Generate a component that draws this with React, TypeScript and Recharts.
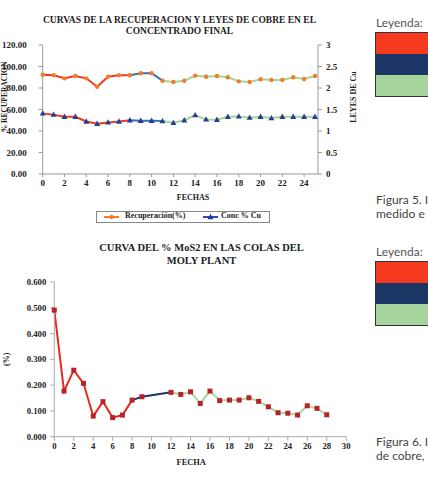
import { ComposedChart, Line, XAxis, YAxis, Legend, Label } from "recharts"

const SERIF = '"Liberation Serif", "Times New Roman", serif'
const SANS = 'Lato, "Open Sans", sans-serif'

// top chart: recovery (%) and copper grade in the final concentrate
const FECHAS = [0, 1, 2, 3, 4, 5, 6, 7, 8, 9, 10, 11, 12, 13, 14, 15, 16, 17, 18, 19, 20, 21, 22, 23, 24, 25]
const RECUPERACION = [92.4, 91.8, 89.0, 91.2, 89.0, 81.2, 90.5, 91.8, 91.8, 93.7, 93.7, 86.8, 85.6, 86.8, 91.5, 90.5, 91.2, 90.0, 86.2, 85.6, 88.1, 87.4, 87.4, 90.0, 88.4, 91.2]
const CONC_CU = [1.41, 1.38, 1.33, 1.33, 1.22, 1.17, 1.2, 1.22, 1.25, 1.24, 1.24, 1.23, 1.19, 1.25, 1.37, 1.27, 1.26, 1.33, 1.34, 1.31, 1.33, 1.3, 1.33, 1.33, 1.33, 1.33]
const TOP_X_TICKS = [0, 2, 4, 6, 8, 10, 12, 14, 16, 18, 20, 22, 24]
const REC_TICKS = [0, 20, 40, 60, 80, 100, 120]
const CU_TICKS = [0, 0.5, 1, 1.5, 2, 2.5, 3]
const TOP_PERIODS = [
  { key: "a", from: 0, to: 8, color: "#ec3b24" },
  { key: "b", from: 8, to: 11, color: "#3b6db3" },
  { key: "c", from: 11, to: 25, color: "#a6d596" },
]

// bottom chart: % MoS2 in the moly plant tails
const FECHA_MOS2 = [0, 1, 2, 3, 4, 5, 6, 7, 8, 9, 12, 13, 14, 15, 16, 17, 18, 19, 20, 21, 22, 23, 24, 25, 26, 27, 28]
const MOS2 = [0.491, 0.177, 0.258, 0.207, 0.08, 0.136, 0.074, 0.084, 0.142, 0.155, 0.172, 0.164, 0.174, 0.129, 0.177, 0.14, 0.142, 0.142, 0.151, 0.137, 0.116, 0.093, 0.091, 0.084, 0.12, 0.11, 0.085]
const BOT_X_TICKS = [0, 2, 4, 6, 8, 10, 12, 14, 16, 18, 20, 22, 24, 26, 28, 30]
const MOS2_TICKS = [0, 0.1, 0.2, 0.3, 0.4, 0.5, 0.6]
const BOT_PERIODS = [
  { key: "a", from: 0, to: 8, color: "#e52b1f" },
  { key: "b", from: 8, to: 12, color: "#1f3563" },
  { key: "c", from: 12, to: 28, color: "#a9d69c" },
]

const LEYENDA = ["#f53a1f", "#1b3564", "#a5d59c"]

const topData = FECHAS.map((x, i) => {
  const row: any = { x, rec: RECUPERACION[i], cu: CONC_CU[i] }
  TOP_PERIODS.forEach((p) => {
    row["rec_" + p.key] = x >= p.from && x <= p.to ? RECUPERACION[i] : null
    row["cu_" + p.key] = x >= p.from && x <= p.to ? CONC_CU[i] : null
  })
  return row
})

const botData = FECHA_MOS2.map((x, i) => {
  const row: any = { x, mos2: MOS2[i] }
  BOT_PERIODS.forEach((p) => {
    row["m_" + p.key] = x >= p.from && x <= p.to ? MOS2[i] : null
  })
  return row
})

const tickStyle = (size: number) => ({ fontFamily: SERIF, fontWeight: 700, fontSize: size, fill: "#222" })

const axisLabel = (text: string, dx: number, dy: number, angle: number, size: number) => (props: any) => {
  const vb = props.viewBox || { x: 0, y: 0, width: 0, height: 0 }
  const cx = vb.x + vb.width / 2 + dx
  const cy = vb.y + vb.height / 2 + dy
  return (
    <text
      x={cx}
      y={cy}
      transform={angle ? `rotate(${angle} ${cx} ${cy})` : undefined}
      textAnchor="middle"
      dominantBaseline="central"
      fontFamily={SERIF}
      fontWeight={700}
      fontSize={size}
      fill="#222"
    >
      {text}
    </text>
  )
}

const recDot = (p: any) => <circle key={p.index} cx={p.cx} cy={p.cy} r={2.2} fill="#f47b2a" />
const cuDot = (p: any) => (
  <path key={p.index} d={`M${p.cx},${p.cy - 3.2}L${p.cx + 3},${p.cy + 2.2}L${p.cx - 3},${p.cy + 2.2}Z`} fill="#203f95" />
)
const mosDot = (p: any) => <rect key={p.index} x={p.cx - 2.5} y={p.cy - 2.5} width={5} height={5} fill="#b8232a" />

function TopLegend() {
  const text = { position: "absolute" as const, top: -1, fontFamily: SERIF, fontWeight: 700, fontSize: 8, color: "#222", whiteSpace: "nowrap" as const }
  return (
    <div style={{ height: 28, position: "relative" }}>
      <div style={{ position: "absolute", left: 96, top: 7, width: 172, height: 10, border: "1px solid #888" }}>
        <svg width={172} height={10} style={{ position: "absolute", left: 0, top: 0 }}>
          <line x1={7} y1={5} x2={22} y2={5} stroke="#f47b2a" strokeWidth={2} />
          <circle cx={14.5} cy={5} r={2.2} fill="#f47b2a" />
          <line x1={106} y1={5} x2={121} y2={5} stroke="#2f4fa8" strokeWidth={2} />
          <path d="M113.5,1.8L116.5,7.2L110.5,7.2Z" fill="#203f95" />
        </svg>
        <span style={{ ...text, left: 28 }}>Recuperación(%)</span>
        <span style={{ ...text, left: 124 }}>Conc % Cu</span>
      </div>
    </div>
  )
}

function Leyenda({ top }: { top: number }) {
  return (
    <div style={{ position: "absolute", left: 376, top }}>
      <div style={{ fontFamily: SANS, fontSize: 12, color: "#555", lineHeight: "14px" }}>Leyenda:</div>
      <div style={{ position: "absolute", left: -1, top: 16, width: 70, border: "1px solid #333" }}>
        {LEYENDA.map((c) => (
          <div key={c} style={{ height: 21, background: c }} />
        ))}
      </div>
    </div>
  )
}

function Caption({ top, lines }: { top: number; lines: string[] }) {
  return (
    <div style={{ position: "absolute", left: 376, top, fontFamily: SANS, fontSize: 12, lineHeight: "14px", color: "#444", whiteSpace: "nowrap" }}>
      {lines.map((l) => (
        <div key={l}>{l}</div>
      ))}
    </div>
  )
}

const titleStyle = (left: number, top: number, size: number, lh: number) => ({
  position: "absolute" as const,
  left,
  top,
  transform: "translateX(-50%)",
  fontFamily: SERIF,
  fontWeight: 700,
  fontSize: size,
  lineHeight: `${lh}px`,
  color: "#222",
  textAlign: "center" as const,
  whiteSpace: "nowrap" as const,
})

export default function App() {
  return (
    <div style={{ position: "absolute", left: 0, top: 0, width: 428, height: 477, overflow: "hidden", background: "#fff" }}>
      <div style={{ position: "absolute", left: 0, top: 0 }}>
        <ComposedChart width={360} height={240} data={topData} margin={{ top: 45, right: 0, bottom: 8, left: 0 }}>
          <XAxis
            dataKey="x"
            type="number"
            domain={[0, 25]}
            padding={{ left: 0, right: 3 }}
            ticks={TOP_X_TICKS}
            interval={0}
            height={30}
            stroke="#999"
            tickSize={3}
            tickMargin={3}
            tick={tickStyle(9)}
          >
            <Label content={axisLabel("FECHAS", 12.7, 8.7, 0, 8)} />
          </XAxis>
          <YAxis
            yAxisId="rec"
            orientation="left"
            width={42.7}
            domain={[0, 120]}
            ticks={REC_TICKS}
            interval={0}
            stroke="#999"
            tickSize={4}
            tickMargin={12}
            tickFormatter={(v: number) => v.toFixed(2)}
            tick={tickStyle(9)}
          >
            <Label content={axisLabel("% RECUPERACION", -16.5, -12.5, -90, 7.5)} />
          </YAxis>
          <YAxis
            yAxisId="cu"
            orientation="right"
            width={42}
            domain={[0, 3]}
            ticks={CU_TICKS}
            interval={0}
            stroke="#999"
            tickSize={4}
            tickMargin={4}
            tick={tickStyle(9)}
          >
            <Label content={axisLabel("LEYES DE Cu", 14, -12.5, -90, 8)} />
          </YAxis>
          {TOP_PERIODS.map((p) => (
            <Line key={"rec" + p.key} yAxisId="rec" dataKey={"rec_" + p.key} stroke={p.color} strokeWidth={2} dot={false} activeDot={false} isAnimationActive={false} legendType="none" />
          ))}
          {TOP_PERIODS.map((p) => (
            <Line key={"cu" + p.key} yAxisId="cu" dataKey={"cu_" + p.key} stroke={p.color} strokeWidth={2} dot={false} activeDot={false} isAnimationActive={false} legendType="none" />
          ))}
          <Line yAxisId="rec" dataKey="rec" name="Recuperación(%)" stroke="none" dot={recDot} activeDot={false} isAnimationActive={false} />
          <Line yAxisId="cu" dataKey="cu" name="Conc % Cu" stroke="none" dot={cuDot} activeDot={false} isAnimationActive={false} />
          <Legend verticalAlign="bottom" content={() => <TopLegend />} />
        </ComposedChart>
      </div>

      <div style={{ position: "absolute", left: 0, top: 230 }}>
        <ComposedChart width={360} height={247} data={botData} margin={{ top: 52, right: 13.8, bottom: 5.3, left: 0 }}>
          <XAxis
            dataKey="x"
            type="number"
            domain={[0, 30]}
            ticks={BOT_X_TICKS}
            interval={0}
            height={35}
            stroke="#aaa"
            tickSize={4}
            tickMargin={2}
            tick={tickStyle(8.7)}
          >
            <Label content={axisLabel("FECHA", -9, 8.5, 0, 8.4)} />
          </XAxis>
          <YAxis
            width={54.3}
            domain={[0, 0.6]}
            ticks={MOS2_TICKS}
            interval={0}
            stroke="#aaa"
            tickSize={4}
            tickMargin={4}
            tickFormatter={(v: number) => v.toFixed(3)}
            tick={tickStyle(8.7)}
          >
            <Label content={axisLabel("(%)", -21, 0, -90, 8)} />
          </YAxis>
          {BOT_PERIODS.map((p) => (
            <Line key={"m" + p.key} dataKey={"m_" + p.key} stroke={p.color} strokeWidth={2} dot={false} activeDot={false} isAnimationActive={false} />
          ))}
          <Line dataKey="mos2" name="% MoS2" stroke="none" dot={mosDot} activeDot={false} isAnimationActive={false} />
        </ComposedChart>
      </div>

      <div style={titleStyle(179.5, 14.5, 9.5, 11)}>
        CURVAS DE LA RECUPERACION Y LEYES DE COBRE EN EL
        <br />
        CONCENTRADO FINAL
      </div>
      <div style={titleStyle(201.5, 242, 10.5, 12.5)}>
        CURVA DEL % MoS2 EN LAS COLAS DEL
        <br />
        MOLY PLANT
      </div>

      <Leyenda top={16} />
      <Caption top={193} lines={["Figura 5. I", "medido e"]} />
      <Leyenda top={245} />
      <Caption top={435} lines={["Figura 6. I", "de cobre,"]} />
    </div>
  )
}
